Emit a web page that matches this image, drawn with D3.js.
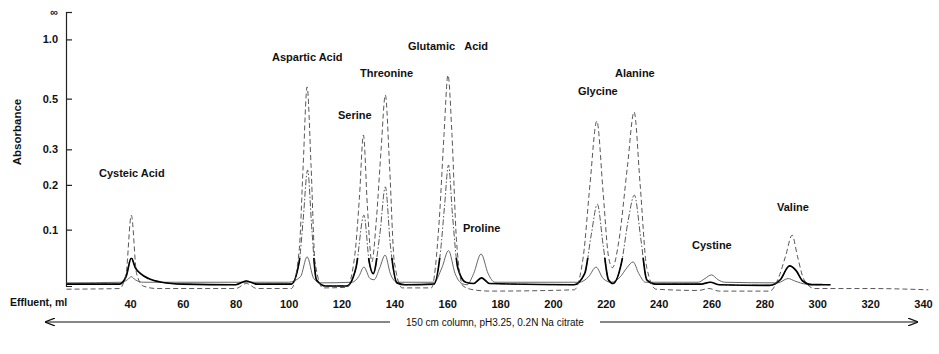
<!DOCTYPE html>
<html>
<head>
<meta charset="utf-8">
<script src="https://cdn.jsdelivr.net/npm/d3@7"></script>
<style>
body { margin: 0; background: #fff; }
text { font-family: "Liberation Sans", Arial, sans-serif; fill: #111; }
</style>
</head>
<body>
<script>
// effluent volume ticks (ml)
xTicks = [40, 60, 80, 100, 120, 140, 160, 180, 200, 220, 240, 260, 280, 300, 320, 340];
// absorbance ticks, axis is linear in transmittance
yTicks = [Infinity, 1.0, 0.5, 0.3, 0.2, 0.1];
yTickLabels = ["\u221e", "1.0", "0.5", "0.3", "0.2", "0.1"];

peakNames = ["Cysteic Acid", "Aspartic Acid", "Serine", "Threonine", "Glutamic\u00a0\u00a0\u00a0Acid",
             "Proline", "Glycine", "Alanine", "Cystine", "Valine"];

// three recorder traces, [effluent ml, absorbance]
// high sensitivity trace (dashed)
traceHigh = [[16, -0.005], [36, -0.004], [38.5, 0.02], [40.5, 0.130], [42.5, 0.02], [45, 0.0], [50, -0.004],
  [80, -0.004], [84, 0.004], [88, -0.004], [101, -0.004], [104, 0.06], [105.5, 0.25], [107, 0.563],
  [108.5, 0.25], [110, 0.04], [113, -0.003], [122, -0.002], [125, 0.05], [126.8, 0.17], [128.3, 0.348],
  [129.8, 0.15], [131.5, 0.04], [133.2, 0.12], [135, 0.3], [136.6, 0.519], [138.2, 0.25], [140, 0.04],
  [143, -0.003], [154, -0.003], [157, 0.12], [158.8, 0.35], [160.3, 0.638], [161.8, 0.35], [163.5, 0.08],
  [166, 0.0], [170, -0.006], [176, -0.008], [208, -0.006], [211.5, 0.05], [214, 0.2], [216.6, 0.400],
  [219, 0.18], [221, 0.05], [222.5, 0.03], [225, 0.08], [228.2, 0.25], [230.7, 0.438], [233, 0.2],
  [235.5, 0.03], [239, -0.005], [255, -0.007], [259, -0.004], [263, -0.008], [282, -0.008], [285.5, 0.015],
  [288, 0.05], [290.5, 0.089], [292.5, 0.05], [295, 0.01], [299, -0.004], [320, -0.004], [342, -0.006]];
// medium trace (bold near baseline)
traceMid = [[16, 0.003], [36, 0.003], [38.5, 0.015], [40.5, 0.047], [42, 0.03], [44, 0.02], [47, 0.012],
  [52, 0.006], [60, 0.003], [80, 0.002], [84, 0.008], [88, 0.003], [101, 0.003], [104, 0.04], [105.5, 0.12],
  [107.2, 0.239], [108.8, 0.1], [110.5, 0.01], [114, 0.0], [122, 0.0], [125.5, 0.03], [128.5, 0.130],
  [130.5, 0.04], [132, 0.02], [134.5, 0.09], [136.6, 0.195], [138.5, 0.07], [141, 0.005], [144, 0.002],
  [155, 0.003], [157.5, 0.06], [159, 0.15], [160.5, 0.253], [162, 0.13], [164, 0.03], [167, 0.006],
  [170, 0.004], [173, 0.013], [176, 0.004], [208, 0.002], [212, 0.02], [214.5, 0.09], [216.8, 0.154],
  [219, 0.07], [221, 0.01], [222.7, 0.004], [226, 0.04], [228.5, 0.12], [230.8, 0.175], [233.3, 0.08],
  [235.5, 0.01], [239, 0.003], [256, 0.003], [259.5, 0.006], [263, 0.002], [282, 0.001], [286, 0.01],
  [289.5, 0.033], [292, 0.025], [294.5, 0.008], [298, 0.002], [305, 0.002]];
// low trace (thin), proline shows here
traceLow = [[16, 0.005], [37, 0.006], [39, 0.01], [40.5, 0.015], [42, 0.01], [45, 0.006], [100, 0.006],
  [104.5, 0.015], [107, 0.049], [109.5, 0.012], [112, 0.005], [124, 0.006], [126.5, 0.015], [128.5, 0.031],
  [130.8, 0.012], [132.3, 0.01], [134.5, 0.03], [136.5, 0.052], [138.5, 0.02], [141, 0.006], [155, 0.006],
  [158, 0.03], [160.5, 0.06], [163, 0.02], [165.5, 0.004], [167.5, 0.002], [170, 0.02], [172.8, 0.054],
  [175.5, 0.02], [178, 0.006], [210, 0.006], [213.5, 0.015], [216.3, 0.031], [219, 0.012], [222, 0.006],
  [225.5, 0.015], [228, 0.03], [230.3, 0.040], [232.5, 0.02], [235, 0.006], [255, 0.006], [257.5, 0.012],
  [260, 0.018], [262.5, 0.01], [265, 0.006], [285, 0.005], [289, 0.012], [291.5, 0.008], [296, 0.003],
  [302, 0.003]];

// where each peak name sits (px)
labelPos = [[99, 177], [272, 61], [338, 119], [360, 77], [408, 50], [463, 232], [578, 95], [615, 77], [692, 249], [777, 211]];

var svg = d3.select("body").append("svg")
    .attr("width", 939)
    .attr("height", 354)
    .style("background", "#fff");

var x = d3.scaleLinear().domain([40, 340]).range([130, 923]);
var t = d3.scaleLinear().domain([0, 1]).range([12, 286]);
function y(a) { return t(Math.pow(10, -a)); }

// y axis, ticks point inward
var yAxis = svg.append("g")
    .attr("transform", "translate(66,0)")
    .call(d3.axisLeft(t)
        .tickValues(yTicks.map(function(a) { return Math.pow(10, -a); }))
        .tickFormat(function(d, i) { return yTickLabels[i]; })
        .tickSizeInner(-6)
        .tickSizeOuter(-6)
        .tickPadding(8));
yAxis.selectAll("path, line").attr("stroke", "#222").attr("stroke-width", 1.2);
yAxis.selectAll("text").attr("font-family", null).style("font-size", "11px").style("font-weight", "bold");

svg.append("text")
    .attr("transform", "translate(21,132) rotate(-90)")
    .attr("text-anchor", "middle")
    .style("font-size", "11.5px")
    .style("font-weight", "bold")
    .text("Absorbance");

// x axis labels only
var xAxis = svg.append("g")
    .attr("transform", "translate(0,286)")
    .call(d3.axisBottom(x).tickValues(xTicks).tickSize(0).tickPadding(14));
xAxis.select(".domain").remove();
xAxis.selectAll("text").attr("font-family", null).style("font-size", "11px").style("font-weight", "bold");

svg.append("text")
    .attr("x", 10)
    .attr("y", 306)
    .style("font-size", "10.5px")
    .style("font-weight", "bold")
    .text("Effluent, ml");

// traces
var line = d3.line()
    .x(function(d) { return x(d[0]); })
    .y(function(d) { return y(d[1]); })
    .curve(d3.curveMonotoneX);

// the recorder dots get sparse on steep rises, so the mid trace is bold only near the baseline
var defs = svg.append("defs");
defs.append("clipPath").attr("id", "lowband")
    .append("rect").attr("x", 0).attr("y", 258).attr("width", 939).attr("height", 50);

svg.append("path").datum(traceLow).attr("d", line)
    .attr("fill", "none").attr("stroke", "#555").attr("stroke-width", 0.9);
svg.append("path").datum(traceMid).attr("d", line)
    .attr("fill", "none").attr("stroke", "#444").attr("stroke-width", 0.9).attr("stroke-dasharray", "6,2,1.5,2");
svg.append("path").datum(traceMid).attr("d", line).attr("clip-path", "url(#lowband)")
    .attr("fill", "none").attr("stroke", "#000").attr("stroke-width", 1.7);
svg.append("path").datum(traceHigh).attr("d", line)
    .attr("fill", "none").attr("stroke", "#444").attr("stroke-width", 0.9).attr("stroke-dasharray", "5,3");

// peak names
svg.selectAll(".peak").data(peakNames).enter().append("text")
    .attr("class", "peak")
    .attr("x", function(d, i) { return labelPos[i][0]; })
    .attr("y", function(d, i) { return labelPos[i][1]; })
    .style("font-size", "11px")
    .style("font-weight", "bold")
    .text(function(d) { return d; });

// column conditions arrow
defs.append("marker").attr("id", "head").attr("viewBox", "0 0 10 8")
    .attr("refX", 10).attr("refY", 4).attr("markerWidth", 10).attr("markerHeight", 8)
    .attr("orient", "auto-start-reverse").attr("markerUnits", "userSpaceOnUse")
    .append("path").attr("d", "M0,0 L10,4 L0,8").attr("fill", "none").attr("stroke", "#111").attr("stroke-width", 1.2);

svg.append("line").attr("x1", 45).attr("y1", 322).attr("x2", 390).attr("y2", 322)
    .attr("stroke", "#111").attr("stroke-width", 1.2).attr("marker-start", "url(#head)");
svg.append("line").attr("x1", 600).attr("y1", 322).attr("x2", 918).attr("y2", 322)
    .attr("stroke", "#111").attr("stroke-width", 1.2).attr("marker-end", "url(#head)");
svg.append("text")
    .attr("x", 495)
    .attr("y", 326)
    .attr("text-anchor", "middle")
    .style("font-size", "10px")
    .text("150 cm column, pH3.25, 0.2N Na citrate");
</script>
</body>
</html>
